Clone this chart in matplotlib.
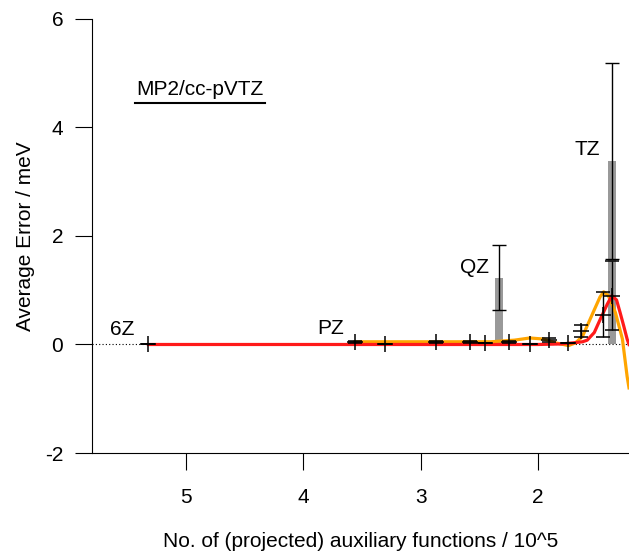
import matplotlib
matplotlib.use('Agg')
import matplotlib.pyplot as plt
plt.rcParams.update({'font.size': 15, 'font.family': 'Liberation Sans', 'axes.unicode_minus': False})

# measured points (x in 10^5 aux functions, y in meV)
point_x = [5.32, 3.56, 3.30, 2.87, 2.58, 2.45, 2.25, 2.07, 1.91, 1.74, 1.63, 1.445, 1.37]
point_y = [0.01, 0.05, 0.00, 0.05, 0.05, 0.02, 0.05, 0.00, 0.08, 0.02, 0.25, 0.55, 0.90]
point_err = [0.0, 0.02, 0.0, 0.02, 0.02, 0.0, 0.02, 0.0, 0.04, 0.0, 0.11, 0.41, 0.63]

# basis-set points drawn as grey bars
bar_x = [2.33, 1.37]
bar_y = [1.23, 3.38]
bar_err = [0.60, 1.80]

labels = ['6Z', 'PZ', 'QZ', 'TZ']
label_x = [5.545, 3.77, 2.54, 1.58]
label_y = [0.27, 0.30, 1.41, 3.59]

# fitted curves
red_x = [5.32, 4.5, 3.5, 2.5, 2.0, 1.8, 1.7, 1.62, 1.58, 1.52, 1.47, 1.41, 1.37, 1.33, 1.30, 1.27, 1.24, 1.224]
red_y = [0.0, 0.0, 0.0, 0.0, 0.0, 0.01, 0.03, 0.05, 0.08, 0.22, 0.46, 0.74, 0.90, 0.82, 0.59, 0.35, 0.10, 0.0]
orange_x = [3.56, 3.3, 3.0, 2.7, 2.4, 2.2, 2.07, 1.95, 1.85, 1.74, 1.68, 1.62, 1.53, 1.47, 1.44, 1.40, 1.34, 1.28, 1.24, 1.224]
orange_y = [0.05, 0.05, 0.05, 0.05, 0.05, 0.08, 0.12, 0.10, 0.03, -0.02, 0.03, 0.15, 0.59, 0.88, 0.97, 0.90, 0.59, 0.10, -0.59, -0.80]

fig = plt.figure(figsize=(6.29, 5.57), dpi=100)
ax = fig.add_axes([0.147, 0.1867, 0.853, 0.7793])

ax.axhline(0, color='black', lw=0.8, ls=(0, (1, 2)), zorder=1)
ax.bar(bar_x, bar_y, width=0.068, color='#999999', zorder=2)
ax.plot(orange_x, orange_y, color='#ffa500', lw=2.3, zorder=3)
ax.plot(red_x, red_y, color='#ff1a1a', lw=2.3, zorder=4)

ax.errorbar(point_x, point_y, yerr=point_err, fmt='+', color='black', ms=12, mew=1.1,
            elinewidth=1, capsize=5, capthick=1, zorder=5)
ax.errorbar(bar_x, bar_y, yerr=bar_err, fmt='none', ecolor='black',
            elinewidth=1, capsize=5, capthick=1, zorder=5)

for lab, lx, ly in zip(labels, label_x, label_y):
    ax.text(lx, ly, lab, ha='center', va='center')

ax.text(0.20, 0.838, 'MP2/cc-pVTZ', transform=ax.transAxes, ha='center', va='center')
ax.plot([0.079, 0.3215], [0.806, 0.806], transform=ax.transAxes, color='black', lw=1.5, clip_on=False)

ax.set_xlim(5.797, 1.224)
ax.set_ylim(-2, 6)
ax.set_xticks([5, 4, 3, 2])
ax.set_yticks([-2, 0, 2, 4, 6])
ax.tick_params(axis='x', direction='out', length=12, pad=13, width=0.8)
ax.tick_params(axis='y', direction='out', length=12, pad=9, width=0.8)
ax.spines['top'].set_visible(False)
ax.spines['right'].set_visible(False)

ax.set_xlabel('No. of (projected) auxiliary functions / 10^5', labelpad=18)
ax.set_ylabel('Average Error / meV', labelpad=7)

fig.savefig('out.png', dpi=100)
